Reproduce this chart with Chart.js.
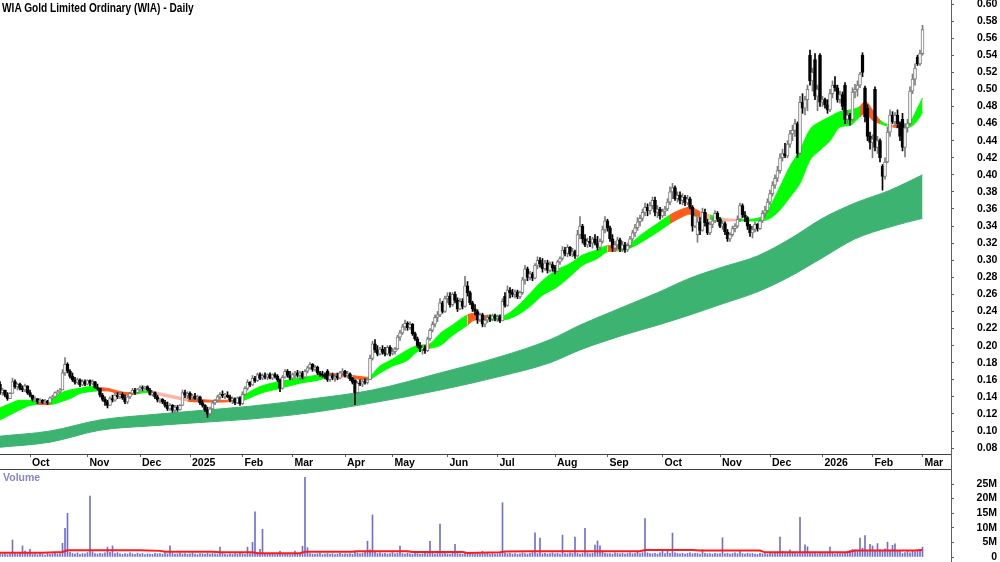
<!DOCTYPE html>
<html><head><meta charset="utf-8">
<script src="https://cdn.jsdelivr.net/npm/chart.js@4.4.1/dist/chart.umd.min.js"></script>
<style>
html,body{margin:0;padding:0;background:#fff;}
#wrap{position:relative;width:1000px;height:562px;overflow:hidden;background:#fff;}
#c1{position:absolute;left:0;top:0;}
#c2{position:absolute;left:0;top:469px;}
#title{position:absolute;left:2px;top:0px;font:bold 13px "Liberation Sans",Arial,sans-serif;transform:scaleX(0.78);transform-origin:0 0;white-space:nowrap;color:#000;}
#vlab{position:absolute;left:3px;top:471px;font:bold 10.5px "Liberation Sans",Arial,sans-serif;color:#8585c8;}
#vline{position:absolute;left:951px;top:0;width:1px;height:562px;background:#606060;}
#hline{position:absolute;left:0;top:469px;width:951px;height:1px;background:#404040;}
</style></head>
<body><div id="wrap">
<canvas id="c1" width="1000" height="469"></canvas>
<canvas id="c2" width="1000" height="93"></canvas>
<div id="hline"></div><div id="vline"></div>
<div id="title">WIA Gold Limited Ordinary (WIA) - Daily</div>
<div id="vlab">Volume</div>
</div>
<script>
// ---- data (prices in thousandths of a dollar, volume in 0.1M shares) ----
const opens = [
155,145,148,142,138,144,158,152,155,150, 148,153,145,142,137,138,134,136,133,135,
133,139,140,145,146,148,168,178,170,164, 160,157,160,154,158,155,159,156,158,151,
150,142,137,134,130,138,136,142,140,143, 139,134,140,144,148,145,149,151,150,152,
148,143,145,140,136,137,134,130,126,130, 124,128,125,130,145,142,144,139,141,138,
140,133,130,125,120,126,133,136,140,143, 141,142,140,136,138,133,139,132,143,150,
157,154,162,159,166,162,165,163,166,162, 166,164,160,150,163,170,165,162,166,168,
165,168,163,170,174,178,172,175,168,166, 165,170,160,165,162,164,162,168,170,165,
167,162,160,145,156,155,158,157,160,185, 202,195,190,196,192,190,198,191,193,196,
210,215,222,226,221,225,214,208,200,196, 197,194,208,218,225,233,236,250,240,255,
258,248,260,253,243,252,246,270,262,250, 243,240,230,236,225,230,233,231,235,232,
234,229,258,247,265,262,260,263,257,262, 277,290,280,284,279,294,300,296,290,297,
288,295,292,287,298,302,312,308,315,307, 310,305,330,340,325,318,322,320,325,320,
315,322,336,346,338,325,314,318,324,313, 318,312,317,325,332,338,345,349,356,362,
358,364,370,356,360,352,357,360,368,380, 385,372,376,370,374,367,372,362,340,330,
345,335,356,344,332,342,346,355,348,340, 343,333,325,330,337,340,348,364,353,350,
340,332,336,342,337,346,355,358,368,378, 388,396,405,420,425,422,436,448,452,460,
425,485,478,488,540,510,535,492,540,485, 488,482,476,495,505,502,488,494,505,465,
470,465,497,500,505,540,502,478,445,438, 500,432,440,410,398,415,450,470,462,470,
460,465,432,455,460,498,512,538,530,542];
const highs = [
158,150,148,145,145,162,160,156,156,153, 155,153,148,142,140,138,138,137,137,136,
140,142,146,148,150,172,186,180,172,168, 163,162,161,160,160,160,160,160,158,155,
150,144,140,136,140,142,144,145,145,145, 142,141,145,150,150,150,153,153,152,153,
150,147,146,142,138,138,136,134,132,131, 130,130,131,148,148,146,146,143,144,142,
141,136,131,128,128,135,137,142,145,147, 144,146,142,140,139,140,140,146,152,160,
158,165,164,168,168,167,168,167,168,167, 168,166,161,165,172,172,170,168,170,171,
170,170,172,176,180,179,177,176,170,170, 168,172,168,168,166,168,170,173,171,170,
168,163,160,158,160,160,161,162,189,205, 207,200,198,200,198,200,200,197,198,212,
218,225,230,228,228,226,216,210,204,200, 200,210,220,228,236,240,255,252,258,262,
262,262,263,256,255,255,281,275,264,252, 248,242,238,238,232,236,236,237,237,236,
236,255,262,270,268,266,265,265,264,280, 294,292,287,286,296,304,303,302,300,300,
298,298,294,300,304,316,315,318,316,314, 312,335,351,342,330,326,328,327,330,328,
325,340,351,348,340,330,322,327,326,322, 321,320,328,335,342,350,353,360,367,366,
368,374,374,364,362,360,363,372,386,390, 387,380,380,378,376,376,374,364,356,350,
350,361,360,348,345,350,358,357,350,346, 345,336,332,340,343,352,367,366,357,351,
342,340,345,343,348,358,363,372,382,392, 400,410,425,430,437,440,452,458,465,462,
492,495,492,505,546,525,542,505,542,492, 490,488,500,510,515,505,498,497,508,475,
472,502,506,510,520,543,504,482,450,447, 503,445,442,412,420,456,476,474,473,476,
462,472,460,465,503,518,530,540,546,575];
const lows = [
143,142,140,136,138,144,150,148,148,146, 146,143,140,135,134,132,133,132,132,131,
133,137,139,143,144,148,165,168,162,158, 155,155,152,153,153,154,153,154,150,148,
140,135,130,127,130,134,135,138,138,137, 132,132,138,143,143,144,147,147,148,147,
142,141,138,134,133,132,128,124,124,122, 122,123,124,130,139,138,137,136,137,135,
131,128,123,116,118,125,131,134,137,139, 138,139,134,132,131,132,130,131,142,148,
152,153,157,158,160,160,161,160,161,160, 162,158,146,149,162,163,160,160,162,163,
160,161,162,168,172,170,170,166,164,163, 161,158,158,160,158,160,161,165,163,162,
159,155,131,144,153,152,155,155,160,183, 192,188,189,190,188,189,188,189,190,195,
206,213,218,218,219,212,206,198,193,190, 191,193,206,216,222,228,234,238,239,250,
245,246,250,240,242,243,245,258,248,240, 236,226,228,222,222,227,228,229,229,228,
227,229,245,246,256,257,256,255,255,260, 272,276,277,276,278,290,292,286,288,285,
286,287,284,286,295,300,305,304,305,304, 302,304,325,320,316,315,316,314,318,312,
312,320,332,334,322,310,310,313,310,310, 309,310,315,322,328,335,340,346,352,352,
354,360,352,350,348,350,352,358,365,372, 370,368,366,365,364,365,360,334,338,321,
330,334,340,330,330,338,344,345,338,336, 330,322,322,328,333,338,345,350,345,336,
328,326,333,334,336,344,350,356,365,375, 384,392,402,416,420,420,432,440,445,420,
424,472,470,475,505,498,488,475,480,480, 478,472,474,490,498,485,484,476,460,460,
458,463,490,492,502,515,462,440,430,420, 428,425,415,382,395,414,445,460,458,455,
440,428,421,450,458,495,505,528,528,540];
const closes = [
145,148,142,138,144,158,152,155,150,148, 153,145,142,137,138,134,136,133,135,133,
139,140,145,146,148,168,178,170,164,160, 157,160,154,158,155,159,156,158,151,150,
142,137,134,130,138,136,142,140,143,139, 134,140,144,148,145,149,151,150,152,148,
143,145,140,136,137,134,130,126,130,124, 128,125,130,145,142,144,139,141,138,140,
133,130,125,120,126,133,136,140,143,141, 142,140,136,138,133,139,132,143,150,157,
154,162,159,166,162,165,163,166,162,166, 164,160,150,163,170,165,162,166,168,165,
168,163,170,174,178,172,175,168,166,165, 163,160,165,162,164,162,168,170,165,167,
161,157,145,156,155,158,157,160,185,202, 195,190,196,192,190,198,191,193,196,210,
215,222,226,221,225,214,208,200,196,197, 194,208,218,225,233,236,250,240,255,258,
248,260,253,243,252,246,270,262,250,243, 240,230,236,225,230,233,231,235,232,234,
229,252,247,265,262,260,263,257,262,277, 290,280,284,279,294,300,296,290,297,288,
295,291,287,298,302,312,308,315,307,310, 305,330,340,325,318,322,320,325,320,315,
322,336,346,338,325,314,318,324,313,318, 312,317,325,332,338,345,349,356,362,358,
364,370,356,360,352,357,360,368,380,385, 372,376,370,374,367,372,362,340,352,345,
335,356,344,332,342,346,355,348,340,343, 333,325,330,337,340,348,364,353,350,340,
332,336,342,337,346,355,358,368,378,388, 396,405,420,425,422,436,448,452,460,425,
485,478,488,500,510,520,492,500,485,488, 482,476,495,505,502,488,494,480,465,470,
465,497,500,505,518,520,468,445,438,442, 432,440,420,398,415,450,470,462,470,460,
445,432,455,460,498,512,525,530,542,570];
const volumes = [
12,9,14,8,10,58,11,9,13,38, 20,12,26,9,11,8,13,10,7,12,
9,11,14,10,12,47,98,150,16,12, 10,14,9,12,11,15,209,18,12,10,
13,11,14,34,16,38,12,15,11,9, 12,10,14,11,9,13,10,12,8,11,
10,9,13,11,12,10,14,11,38,12, 9,11,13,10,12,9,11,14,10,8,
12,11,9,13,10,12,11,9,34,12, 10,8,11,9,12,10,13,11,9,34,
12,50,155,14,26,95,11,9,12,10, 8,11,20,9,10,12,8,11,20,9,
11,37,273,32,12,10,9,11,13,8, 10,12,9,11,8,10,13,9,11,10,
12,9,20,14,11,13,18,54,25,144, 20,12,14,11,13,10,12,15,11,13,
37,12,10,14,11,9,13,12,10,11, 14,12,54,13,11,15,113,12,14,11,
10,13,43,12,11,9,13,10,12,11, 9,12,10,20,11,13,9,12,10,11,
12,186,14,11,13,10,12,9,11,14, 12,10,13,15,83,12,65,11,13,10,
12,14,11,13,10,75,12,11,14,12, 68,13,10,12,98,14,11,13,41,55,
38,22,13,11,12,10,14,12,11,13, 10,12,14,11,13,20,12,15,132,14,
12,11,13,10,14,22,12,24,13,82, 14,12,11,13,10,12,14,11,13,12,
10,25,13,11,12,10,13,11,12,66, 11,13,10,12,14,11,22,12,10,13,
11,12,10,9,13,11,12,10,14,12, 13,15,68,20,12,14,25,13,15,12,
136,14,42,35,13,12,15,11,14,13, 12,14,34,13,11,15,12,14,13,20,
22,26,25,20,65,30,73,22,43,38, 20,46,25,22,28,51,24,40,45,22,
20,12,15,22,14,20,18,22,25,34];
// month ticks (bar index of first trading day) and their labels
const monthIdx = [12,35,56,76,97,117,138,157,179,199,222,243,265,288,308,329,349,369];
const monthLabels = ['Oct','Nov','Dec','2025','Feb','Mar','Apr','May','Jun','Jul','Aug','Sep','Oct','Nov','Dec','2026','Feb','Mar'];
const priceTicks = [0.08,0.10,0.12,0.14,0.16,0.18,0.20,0.22,0.24,0.26,0.28,0.30,0.32,0.34,0.36,0.38,0.40,0.42,0.44,0.46,0.48,0.50,0.52,0.54,0.56,0.58,0.60];
const volTicks = [0,5,10,15,20,25];
// short-term moving-average ribbon (thousandths), colour code per following segment
const shortIdx = [0,4,8,12,15,20,24,28,32,36,39,43,47,51,54,58,60,65,70,75,80,85,90,93,96,100,104,112,120,128,131,135,139,141,147,152,157,163,167,170,172,176,181,187,190,195,201,207,212,217,223,228,233,239,243,247,251,257,263,268,273,276,280,284,289,295,299,304,308,312,316,320,324,328,332,336,340,344,346,349,352,355,357,361,364,368,369];
const shortHi = [127,132,136,136,134,136,144,148,150,152,151,150,147,145,146,147,147,144,141,138,137,136,136,137,140,146,152,158,162,166,167,167,166,165,163,176,184,195,200,201,202,214,224,236,238,235,235,246,261,276,289,296,306,312,317,317,318,331,343,353,360,362,357,353,349,348,348,350,363,386,410,429,453,462,468,474,476,480,486,476,464,459,458,458,462,484,490];
const shortLo = [113,119,125,130,131,131,134,138,144,146,147,147,144,142,143,145,145,141,138,135,134,134,134,135,135,139,144,150,156,160,163,163,164,162,160,168,176,183,193,195,197,200,212,224,230,230,230,236,246,259,269,281,294,302,310,311,313,322,333,343,351,354,350,348,346,346,346,346,349,359,374,390,417,429,440,456,458,468,472,464,460,457,456,455,456,468,474];
const shortCol = 'ggggrgggggrrrrggppprrrrgggggggrrgrgggggrgggrrgggggggggrggggrrrpgpggggggggggggrrrgprggg';
// long-term moving-average band (thousandths)
const longIdx = [0,20,40,60,80,100,123,149,176,200,220,232,249,263,276,289,303,316,329,342,356,369];
const longHi = [94,100,113,119,124,129,137,148,168,187,207,224,245,262,279,292,305,325,349,367,382,400];
const longLo = [81,87,101,106,110,114,121,133,148,164,180,195,212,224,236,249,263,281,303,325,339,349];
// volume moving average (millions)
const volMaIdx = [0,17,25,27,56,64,66,85,88,101,103,120,122,141,143,163,165,185,187,200,202,213,256,258,277,280,304,306,339,342,366,369];
const volMa = [1.5,1.5,1.7,2.3,2.3,2.1,1.8,1.8,1.6,1.6,1.3,1.3,1.8,1.8,2.0,2.0,1.7,1.7,1.4,1.6,1.9,2.0,2.0,2.4,2.4,2.2,2.2,1.6,1.6,2.2,2.2,2.4];

// ---- build chart structures ----
const FONT = {family:'"Liberation Sans", Arial, sans-serif', size:10.5, weight:'bold'};
const UPC = '#7c7c7c';
const body=[], wick=[], bodyFill=[], bodyEdge=[], wickCol=[];
for (let i=0;i<closes.length;i++){
  const up = closes[i] >= opens[i];
  body.push({x:i, y:[opens[i]/1000, closes[i]/1000]});
  wick.push({x:i, y:[lows[i]/1000, highs[i]/1000]});
  bodyFill.push(up ? '#ffffff' : '#000000');
  bodyEdge.push(up ? UPC : '#000000');
  wickCol.push(up ? UPC : '#000000');
}
const bandColors = {g:'#00ff00', r:'#ff5c1c', p:'#ffb3a3'};
const segCol = c => bandColors[shortCol[c.p0DataIndex]] || '#00ff00';
const sHiPts = shortIdx.map((x,k)=>({x, y:shortHi[k]/1000}));
const sLoPts = shortIdx.map((x,k)=>({x, y:shortLo[k]/1000}));
const lHiPts = longIdx.map((x,k)=>({x, y:longHi[k]/1000}));
const lLoPts = longIdx.map((x,k)=>({x, y:longLo[k]/1000}));
const XMAX = 951/2.5;

function fixY(w){ return function(a){ a.width = w; a.paddingTop = 0; a.paddingBottom = 0; }; }

new Chart(document.getElementById('c1'), {
  type:'bar',
  data:{datasets:[
    {type:'bar', data:body, backgroundColor:bodyFill, borderColor:bodyEdge, borderWidth:1, borderSkipped:false, barThickness:3, grouped:false, order:0},
    {type:'bar', data:wick, backgroundColor:wickCol, borderWidth:0, barThickness:1, grouped:false, order:1},
    {type:'line', data:sHiPts, fill:'+1', borderWidth:1, pointRadius:0, tension:0.4, cubicInterpolationMode:'monotone',
      backgroundColor:'#00ff00', borderColor:'#00ff00', segment:{backgroundColor:segCol, borderColor:segCol}, order:2},
    {type:'line', data:sLoPts, fill:false, borderWidth:1, pointRadius:0, tension:0.4, cubicInterpolationMode:'monotone',
      borderColor:'#00ff00', segment:{borderColor:segCol}, order:3},
    {type:'line', data:lHiPts, fill:'+1', borderWidth:1, pointRadius:0, tension:0.4, cubicInterpolationMode:'monotone',
      backgroundColor:'#3cb371', borderColor:'#3cb371', order:4},
    {type:'line', data:lLoPts, fill:false, borderWidth:1, pointRadius:0, tension:0.4, cubicInterpolationMode:'monotone',
      borderColor:'#3cb371', order:5}
  ]},
  options:{
    responsive:false, animation:false, devicePixelRatio:1,
    layout:{padding:{left:0,right:3,top:0,bottom:0}},
    plugins:{legend:{display:false}, tooltip:{enabled:false}},
    scales:{
      x:{type:'linear', min:0, max:XMAX, offset:false, position:'bottom',
        grid:{display:true, drawOnChartArea:false, drawTicks:true, tickLength:3, color:'#606060', offset:false},
        border:{display:true, color:'#404040'},
        ticks:{autoSkip:false, maxRotation:0, align:'start', labelOffset:2, padding:0, color:'#000', font:FONT,
          callback:(v,i)=>monthLabels[i]},
        afterBuildTicks:a=>{a.ticks = monthIdx.map(v=>({value:v}));},
        afterFit:a=>{a.height = 15; a.paddingLeft = 0; a.paddingRight = 0;}
      },
      y:{type:'linear', position:'right', min:0.0731, max:0.6047,
        grid:{display:true, drawOnChartArea:false, drawTicks:true, tickLength:3, color:'#606060'},
        border:{display:true, color:'#606060'},
        ticks:{autoSkip:false, padding:23, color:'#000', font:FONT, callback:v=>v.toFixed(2)},
        afterBuildTicks:a=>{a.ticks = priceTicks.map(v=>({value:v}));},
        afterFit:fixY(46)
      }
    }
  }
});

const volBars = volumes.map((v,i)=>({x:i, y:v*1e5}));
const volMaPts = volMaIdx.map((x,k)=>({x, y:volMa[k]*1e6}));
new Chart(document.getElementById('c2'), {
  type:'bar',
  data:{datasets:[
    {type:'line', data:volMaPts, borderColor:'#ff1a1a', borderWidth:2, pointRadius:0, tension:0, fill:false, order:0},
    {type:'bar', data:volBars, backgroundColor:'#7070d0', borderWidth:0, barThickness:1, grouped:false, order:1}
  ]},
  options:{
    responsive:false, animation:false, devicePixelRatio:1,
    layout:{padding:{left:0,right:3,top:0,bottom:0}},
    plugins:{legend:{display:false}, tooltip:{enabled:false}},
    scales:{
      x:{type:'linear', min:0, max:XMAX, offset:false, display:false},
      y:{type:'linear', position:'right', min:-1.71e6, max:30.14e6,
        grid:{display:true, drawOnChartArea:false, drawTicks:true, tickLength:3, color:'#606060'},
        border:{display:true, color:'#606060'},
        ticks:{autoSkip:false, padding:8, crossAlign:'far', color:'#000', font:FONT, callback:v=> v===0 ? '0' : (v/1e6)+'M'},
        afterBuildTicks:a=>{a.ticks = volTicks.map(v=>({value:v*1e6}));},
        afterFit:fixY(46)
      }
    }
  }
});
</script>
</body></html>
